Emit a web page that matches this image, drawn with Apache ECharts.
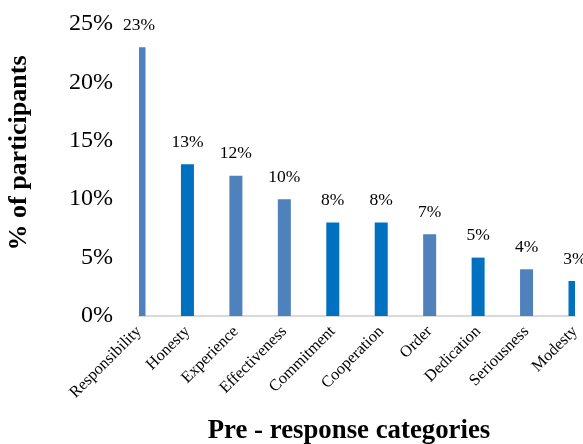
<!DOCTYPE html>
<html>
<head>
<meta charset="utf-8">
<script src="https://cdn.jsdelivr.net/npm/echarts@6/dist/echarts.min.js"></script>
<style>
html,body{margin:0;padding:0;background:#fff;}
#chart{width:583px;height:444px;}
</style>
</head>
<body>
<div id="chart"></div>
<script>
const categories = ['Responsibility','Honesty','Experience','Effectiveness','Commitment','Cooperation','Order','Dedication','Seriousness','Modesty'];
const values = [23, 13, 12, 10, 8, 8, 7, 5, 4, 3];
const yTicks = [0, 5, 10, 15, 20, 25];
const yTitle = '% of participants';
const xTitle = 'Pre - response categories';

// style
const FONT = "'Liberation Serif','Times New Roman',serif";
const LIGHT = '#4F81BD';
const DARK = '#0070C0';
const darkBars = ['Honesty','Commitment','Cooperation','Dedication','Modesty'];
const BAR_W = 13;

const chart = echarts.init(document.getElementById('chart'), null, {renderer:'canvas'});
chart.setOption({
  animation: false,
  backgroundColor: '#fff',
  grid: {left: 139, right: 8, top: 24, bottom: 128, containLabel: false},
  xAxis: {
    type: 'category',
    data: categories,
    boundaryGap: false,
    axisLine: {show: true, lineStyle: {color: '#D9D9D9', width: 2}},
    axisTick: {show: false},
    axisLabel: {rotate: 45, margin: 13, fontFamily: FONT, fontSize: 16.3, color: '#000', interval: 0}
  },
  yAxis: {
    type: 'value',
    min: yTicks[0],
    max: yTicks[yTicks.length - 1],
    interval: yTicks[1] - yTicks[0],
    axisLine: {show: false},
    axisTick: {show: false},
    splitLine: {show: false},
    axisLabel: {formatter: '{value}%', margin: 26, fontFamily: FONT, fontSize: 24, color: '#000'}
  },
  series: [
    {
      type: 'custom',
      clip: true,
      z: 2,
      data: values.map((v, i) => [i, v]),
      renderItem: function (params, api) {
        const i = api.value(0);
        const top = api.coord([i, api.value(1)]);
        const base = api.coord([i, 0]);
        return {
          type: 'rect',
          shape: {x: top[0] - BAR_W / 2, y: top[1], width: BAR_W, height: base[1] - top[1]},
          style: {fill: darkBars.includes(categories[i]) ? DARK : LIGHT}
        };
      }
    },
    {
      type: 'bar',
      data: values,
      barWidth: BAR_W,
      z: 5,
      itemStyle: {color: 'rgba(0,0,0,0)'},
      label: {show: true, position: 'top', distance: 13, formatter: '{c}%', fontFamily: FONT, fontSize: 17.5, color: '#000'}
    }
  ],
  graphic: [
    {type: 'text', x: 19, y: 153, rotation: Math.PI / 2,
     style: {text: yTitle, font: "bold 26px " + FONT, fill: '#000', align: 'center', verticalAlign: 'middle'}},
    {type: 'text', x: 349, y: 431,
     style: {text: xTitle, font: "bold 26.8px " + FONT, fill: '#000', align: 'center', verticalAlign: 'middle'}}
  ]
});
</script>
</body>
</html>
